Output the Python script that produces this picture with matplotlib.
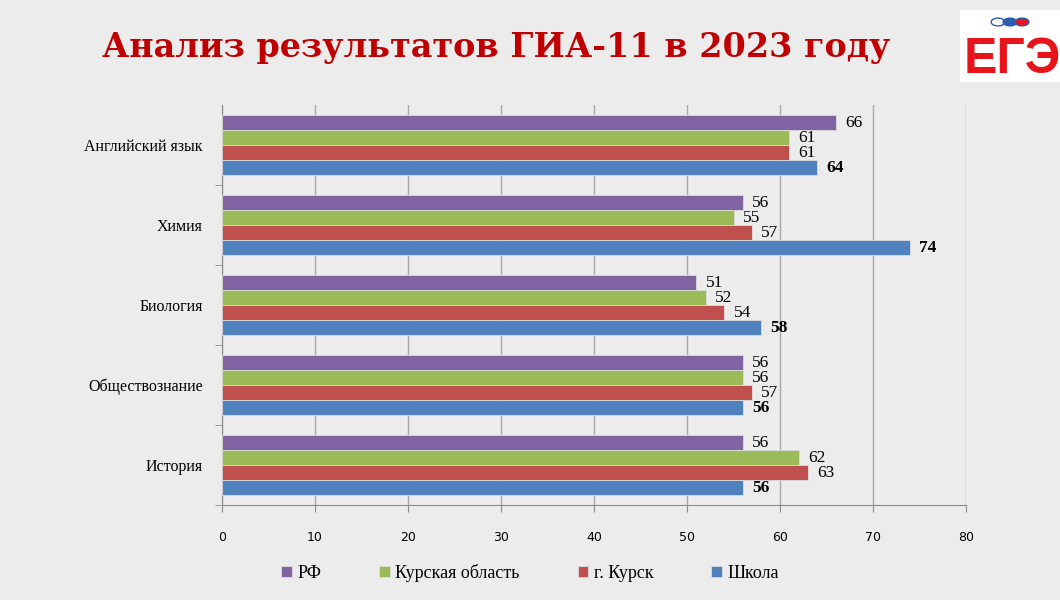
import matplotlib.pyplot as plt
from matplotlib.patches import Rectangle, Circle
import numpy as np

subjects = ['Английский язык', 'Химия', 'Биология', 'Обществознание', 'История']
series_names = ['РФ', 'Курская область', 'г. Курск', 'Школа']
rf = [66, 56, 51, 56, 56]
kursk_obl = [61, 55, 52, 56, 62]
kursk_city = [61, 57, 54, 57, 63]
school = [64, 74, 58, 56, 56]
colors = ['#8064A2', '#9BBB59', '#C0504D', '#4F81BD']

bg = '#ececec'
fig = plt.figure(figsize=(10.6, 6), dpi=100, facecolor=bg)
ax = fig.add_axes([222/1060, 1-505/600, 744/1060, 400/600])
ax.set_facecolor('none')

series = [rf, kursk_obl, kursk_city, school]
h = 0.1875
y0 = np.arange(len(subjects))
for i, (vals, c, name) in enumerate(zip(series, colors, series_names)):
    ys = y0 - 1.5*h + i*h
    ax.barh(ys, vals, height=h, color=c, edgecolor='#dcdcdc', linewidth=0.6,
            label=name, zorder=3)
    for y, v in zip(ys, vals):
        ax.text(v + 1.0, y + 0.01, str(v), va='center', ha='left', fontsize=12.5,
                family='Liberation Serif',
                fontweight='bold' if name == 'Школа' else 'normal', zorder=4)

ax.set_xlim(0, 80)
ax.set_ylim(len(subjects) - 0.5, -0.5)
ax.set_xticks(range(0, 81, 10))
ax.set_yticks(y0)
ax.set_yticklabels(subjects, family='Liberation Serif', fontsize=11.5)
ax.set_yticks(np.arange(0.5, len(subjects)), minor=True)
ax.tick_params(axis='y', which='major', length=0, pad=14)
ax.tick_params(axis='y', which='minor', length=5, color='#8c8c8c')
ax.tick_params(axis='x', length=5, color='#8c8c8c', pad=14, labelsize=9)
for lab in ax.get_xticklabels():
    lab.set_family('DejaVu Sans')
ax.grid(axis='x', color='#a8a8a8', linewidth=1, zorder=0)
for s in ['top', 'right']:
    ax.spines[s].set_visible(False)
for s in ['left', 'bottom']:
    ax.spines[s].set_color('#8c8c8c')

handles, labels = ax.get_legend_handles_labels()
fig.legend(handles, labels, loc='center', bbox_to_anchor=(0.5, 1-573/600), ncol=4,
           frameon=False, prop={'family': 'Liberation Serif', 'size': 13},
           handlelength=0.6, handleheight=0.6, handletextpad=0.3, columnspacing=3.2)

fig.text(0.468, 1-48/600, 'Анализ результатов ГИА-11 в 2023 году', ha='center', va='center',
         fontsize=24, fontweight='bold', family='DejaVu Serif', color='#C00000')

# logo
fig.patches.append(Rectangle((960/1060, 1-82/600), 100/1060, 72/600, transform=fig.transFigure,
                             facecolor='white', edgecolor='none'))
fig.text(1012/1060, 1-60/600, 'ЕГЭ', ha='center', va='center', fontsize=36,
         fontweight='bold', family='Liberation Sans', color='#E8141B')
for cx, cc in [(998, '#ffffff'), (1010, '#2a5db0'), (1022, '#E8141B')]:
    fig.patches.append(Circle((cx/1060, 1-22/600), 0.0065, transform=fig.transFigure,
                              facecolor=cc, edgecolor='#2a5db0', linewidth=1))

plt.savefig('out.png', dpi=100, facecolor=bg)
